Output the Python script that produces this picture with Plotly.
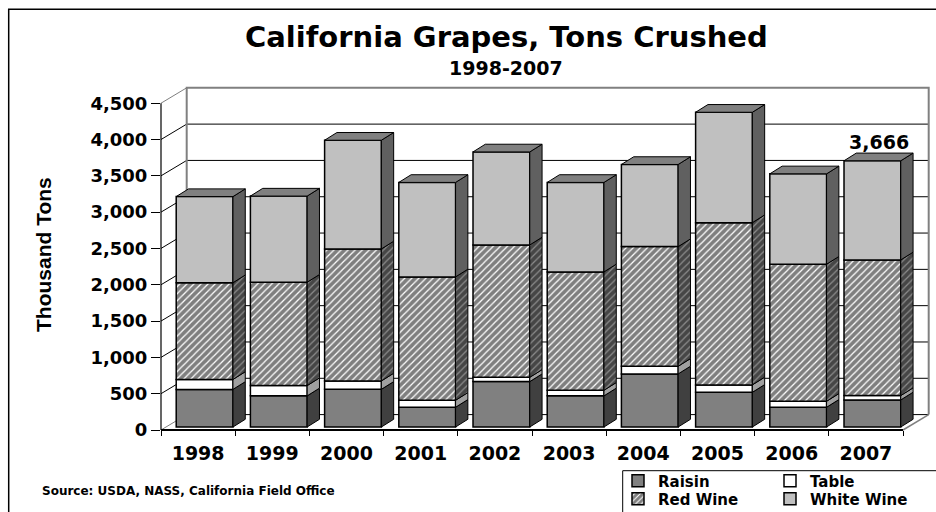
import numpy as np
import plotly.graph_objects as go

# ---------------- data ----------------
years = ["1998", "1999", "2000", "2001", "2002", "2003", "2004", "2005", "2006", "2007"]
raisin = [518, 429, 519, 272, 625, 429, 731, 478, 272, 373]
table = [137, 141, 115, 96, 59, 77, 105, 102, 82, 60]
red_wine = [1332, 1424, 1818, 1699, 1823, 1630, 1648, 2234, 1888, 1868]
white_wine = [1186, 1186, 1497, 1301, 1281, 1232, 1131, 1520, 1244, 1365]
y_ticks = [0, 500, 1000, 1500, 2000, 2500, 3000, 3500, 4000, 4500]

# ---------------- geometry (pixels) ----------------
W, H = 936, 512
L_PX, R_PX, T_PX, B_PX = 161, 0, 80, 82
CAT_PX = 74.2              # pixels per category
UNIT_PX = 36.31 / 500      # pixels per thousand tons
plot_w = W - L_PX - R_PX
plot_h = H - T_PX - B_PX
x_range = [-0.5, -0.5 + plot_w / CAT_PX]
y_range = [0, plot_h / UNIT_PX]

BAR_OFF, BAR_W = -0.295, 0.765
DDX, DDY = 12.3 / CAT_PX, 7.7 / UNIT_PX        # bar depth
LIFT = 3 / UNIT_PX
WDX, WDY = 25.7 / CAT_PX, 15.4 / UNIT_PX        # wall depth

FONT = "DejaVu Sans"


def pxx(px):
    return (px - L_PX) / plot_w


def pxy(py):
    return (H - B_PX - py) / plot_h


def dx(xd):
    return (xd - x_range[0]) / (x_range[1] - x_range[0])


def dy(yd):
    return (yd - y_range[0]) / (y_range[1] - y_range[0])


fig = go.Figure()
n = len(years)
xpos = np.arange(n)

HATCH = dict(shape="/", fgcolor="black", size=5, solidity=0.75)

series = [
    ("Raisin", raisin, "#808080", "#404040", False, "legend"),
    ("Table", table, "#ffffff", "#a0a0a0", False, "legend2"),
    ("Red Wine", red_wine, "#ffffff", "#8c8c8c", True, "legend3"),
    ("White Wine", white_wine, "#c0c0c0", "#606060", False, "legend4"),
]

base = np.full(n, LIFT)
for name, vals, front, side, pat, leg in series:
    vals = np.array(vals, dtype=float)
    marker = dict(color=front, line=dict(color="black", width=1.5))
    if pat:
        marker["pattern"] = dict(HATCH, bgcolor="white")
    fig.add_trace(go.Bar(x=xpos, y=vals, base=base.copy(), offset=BAR_OFF, width=BAR_W,
                         name=name, marker=marker, legend=leg, hoverinfo="skip"))
    xs, ys = [], []
    for i in range(n):
        xr = xpos[i] + BAR_OFF + BAR_W
        y0 = base[i]
        y1 = base[i] + vals[i]
        xs += [xr, xr + DDX, xr + DDX, xr, xr, None]
        ys += [y0, y0 + DDY, y1 + DDY, y1, y0, None]
    sc = dict(x=xs, y=ys, mode="lines", fill="toself", fillcolor=side,
              line=dict(color="black", width=1), showlegend=False, hoverinfo="skip")
    if pat:
        sc["fillpattern"] = dict(HATCH, bgcolor=side)
    fig.add_trace(go.Scatter(**sc))
    base = base + vals

# top faces
xs, ys = [], []
for i in range(n):
    xl = xpos[i] + BAR_OFF
    xr = xl + BAR_W
    t = base[i]
    xs += [xl, xr, xr + DDX, xl + DDX, xl, None]
    ys += [t, t, t + DDY, t + DDY, t, None]
fig.add_trace(go.Scatter(x=xs, y=ys, mode="lines", fill="toself", fillcolor="#808080",
                         line=dict(color="black", width=1), showlegend=False, hoverinfo="skip"))

totals = np.array(raisin) + np.array(table) + np.array(red_wine) + np.array(white_wine)

# ---------------- walls / axes as shapes ----------------
shapes = []
GREY = "#808080"
wl, wr = -0.5 + WDX, n - 0.5 + WDX
wtop = y_ticks[-1] + WDY
shapes.append(dict(type="rect", xref="paper", yref="paper", x0=dx(wl), x1=dx(wr),
                   y0=dy(WDY), y1=dy(wtop), fillcolor="white", line=dict(width=0), layer="below"))
for v in y_ticks[:-1]:
    shapes.append(dict(type="line", xref="paper", yref="paper", x0=dx(wl), x1=dx(wr),
                       y0=dy(v + WDY), y1=dy(v + WDY), line=dict(color="black", width=1), layer="below"))
for v in y_ticks:
    col = GREY if v in (y_ticks[0], y_ticks[-1]) else "black"
    shapes.append(dict(type="line", xref="paper", yref="paper", x0=dx(-0.5), x1=dx(wl),
                       y0=dy(v), y1=dy(v + WDY), line=dict(color=col, width=1), layer="below"))
# wall border (grey)
shapes.append(dict(type="path", xref="paper", yref="paper",
                   path=f"M{dx(wl)},{dy(WDY)} L{dx(wl)},{dy(wtop)} L{dx(wr)},{dy(wtop)} L{dx(wr)},{dy(WDY)}",
                   line=dict(color=GREY, width=2), layer="below"))
shapes.append(dict(type="line", xref="paper", yref="paper", x0=dx(n - 0.5), x1=dx(wr),
                   y0=dy(0), y1=dy(WDY), line=dict(color=GREY, width=1.5), layer="below"))
# front axes
shapes.append(dict(type="line", xref="paper", yref="paper", x0=dx(-0.5), x1=dx(-0.5),
                   y0=dy(0), y1=dy(y_ticks[-1]), line=dict(color="black", width=1.2)))
shapes.append(dict(type="line", xref="paper", yref="paper", x0=dx(-0.5), x1=dx(n - 0.5),
                   y0=dy(0), y1=dy(0), line=dict(color="black", width=2)))
# outer frame and legend box
shapes.append(dict(type="rect", xref="paper", yref="paper", x0=pxx(8.7), x1=pxx(960),
                   y0=pxy(540), y1=pxy(9.3), line=dict(color="black", width=1.5)))
shapes.append(dict(type="rect", xref="paper", yref="paper", x0=pxx(622.7), x1=pxx(960),
                   y0=pxy(540), y1=pxy(470.7), line=dict(color="black", width=1)))

# ---------------- annotations ----------------
annotations = [
    dict(text="California Grapes, Tons Crushed", xref="paper", yref="paper",
         x=pxx(506), y=pxy(37.3), xanchor="center", yanchor="middle", showarrow=False,
         font=dict(family=FONT, size=29, color="black", weight="bold")),
    dict(text="1998-2007", xref="paper", yref="paper",
         x=pxx(506), y=pxy(68.3), xanchor="center", yanchor="middle", showarrow=False,
         font=dict(family=FONT, size=19, color="black", weight="bold")),
    dict(text="Thousand Tons", xref="paper", yref="paper", textangle=-90,
         x=pxx(43), y=pxy(255), xanchor="center", yanchor="middle", showarrow=False,
         font=dict(family="Liberation Sans", size=21, color="black", weight="bold")),
    dict(text="Source: USDA, NASS, California Field Office", xref="paper", yref="paper",
         x=pxx(40), y=pxy(491), xanchor="left", yanchor="middle", showarrow=False,
         font=dict(family=FONT, size=12, color="black", weight="bold")),
    dict(text=f"{int(totals[-1]):,}", xref="x", yref="y",
         x=xpos[-1] + BAR_OFF + BAR_W / 2 + DDX / 2, y=totals[-1] + LIFT + DDY,
         xanchor="center", yanchor="bottom", showarrow=False, yshift=-2,
         font=dict(family=FONT, size=19, color="black", weight="bold")),
]

leg_font = dict(family=FONT, size=15, color="black", weight="bold")


def leg(xp, yp):
    return dict(x=pxx(xp), y=pxy(yp), xanchor="left", yanchor="middle", orientation="h",
                bgcolor="rgba(0,0,0,0)", borderwidth=0, font=leg_font)


fig.update_layout(
    width=W, height=H,
    margin=dict(l=L_PX, r=R_PX, t=T_PX, b=B_PX, autoexpand=False),
    paper_bgcolor="white", plot_bgcolor="white",
    barmode="overlay",
    showlegend=True,
    legend=leg(618, 481), legend2=leg(770, 481),
    legend3=leg(618, 499), legend4=leg(770, 499),
    shapes=shapes, annotations=annotations,
    xaxis=dict(range=x_range, tickmode="array", tickvals=list(xpos), ticktext=years,
               ticks="outside", ticklen=6, tickcolor="rgba(0,0,0,0)",
               tickfont=dict(family=FONT, size=19, color="black", weight="bold"),
               showgrid=False, zeroline=False, showline=False, fixedrange=True,
               minor=dict(tickmode="array", tickvals=[k - 0.5 for k in range(n + 1)],
                          ticks="outside", ticklen=5, tickcolor="black", tickwidth=1,
                          showgrid=False)),
    yaxis=dict(range=y_range, tickmode="array", tickvals=y_ticks, tickformat=",",
               ticks="outside", ticklen=9, tickcolor="black", tickwidth=1,
               tickfont=dict(family=FONT, size=18, color="black", weight="bold"),
               showgrid=False, zeroline=False, showline=False, fixedrange=True),
)

fig.write_html("out.html", config={"displayModeBar": False},
               post_script="document.body.style.margin='0';document.body.style.overflow='hidden';")
